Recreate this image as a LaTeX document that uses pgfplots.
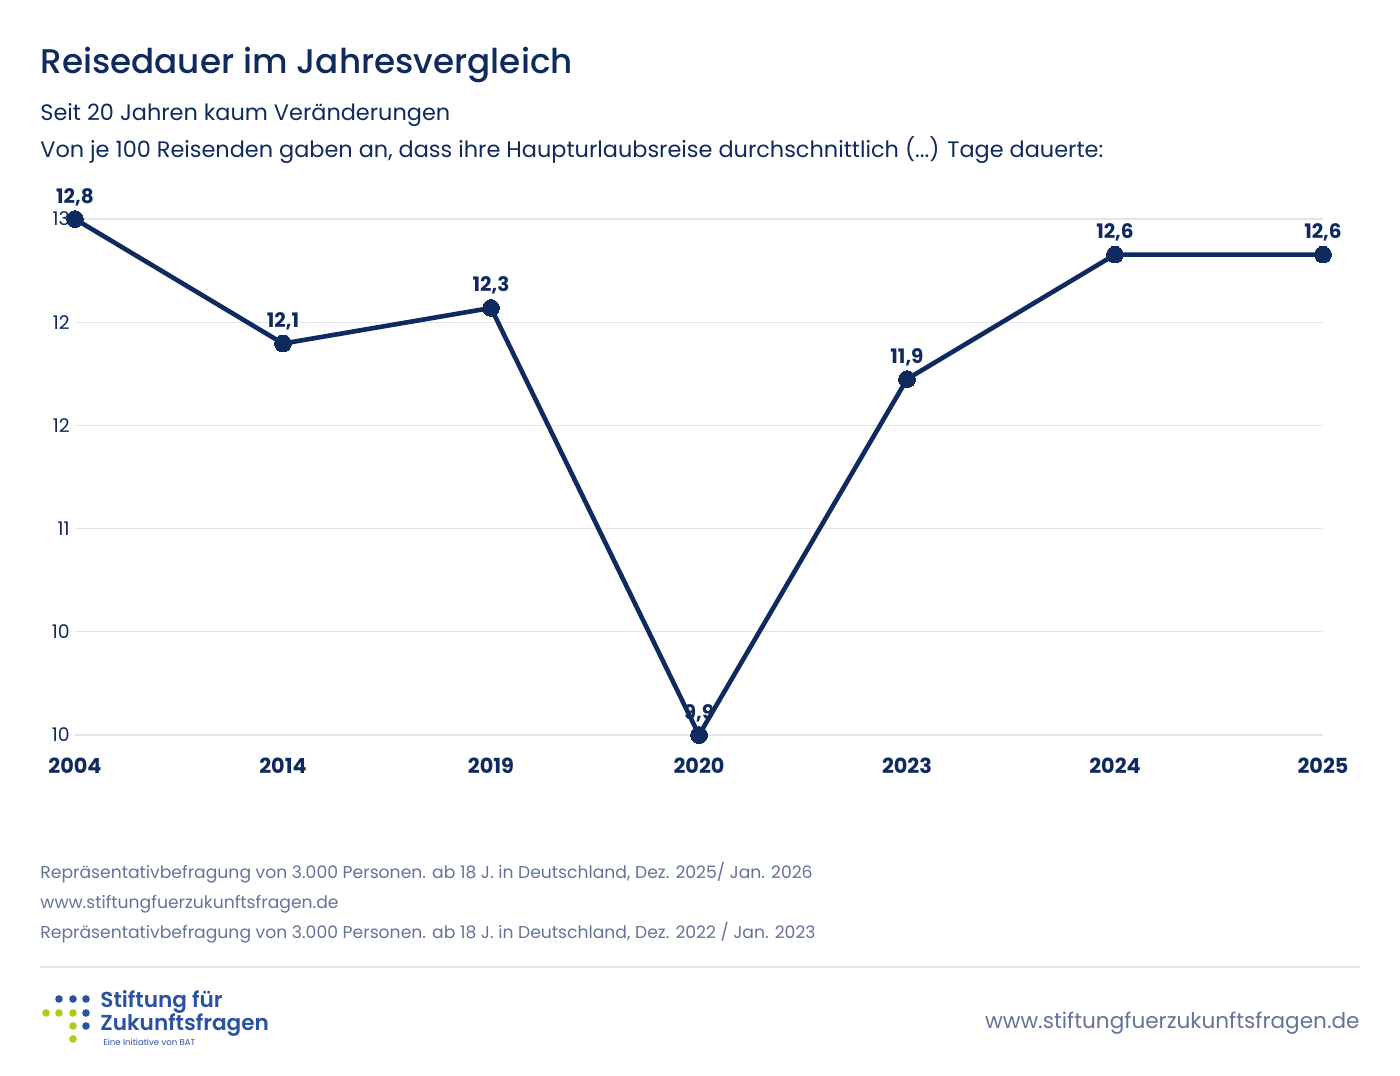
\documentclass[border=0pt]{standalone}
\usepackage{pgfplots}
\pgfplotsset{compat=1.18}
\usepackage{fontspec}
\setmainfont{Poppins}
\newfontfamily\medfont{Poppins Medium}
\newfontfamily\semifont{Poppins SemiBold}
\definecolor{navy}{HTML}{0F2A5E}
\definecolor{gridc}{HTML}{E1E5EF}
\definecolor{foot}{HTML}{65739A}
\definecolor{logoblue}{HTML}{2A52A2}
\definecolor{logogreen}{HTML}{B3CB17}
\newcommand{\PX}[2]{({#1*0.5bp},{-#2*0.5bp})}
\begin{document}
\begin{tikzpicture}
\path[use as bounding box] (0,0) rectangle (700bp,-538bp);
% titles
\node[anchor=base west,inner sep=0pt,text=navy,font=\medfont\fontsize{17.1bp}{20bp}\selectfont] at \PX{40}{74} {Reisedauer im Jahresvergleich};
\node[anchor=base west,inner sep=0pt,text=navy,font=\fontsize{11.2bp}{13bp}\selectfont] at \PX{40}{121} {Seit 20 Jahren kaum Veränderungen};
\node[anchor=base west,inner sep=0pt,text=navy,font=\fontsize{11.2bp}{13bp}\selectfont] at \PX{40}{158} {Von je 100 Reisenden gaben an, dass ihre Haupturlaubsreise durchschnittlich (...) Tage dauerte:};
\begin{axis}[
  at={(37.5bp,-367.5bp)}, anchor=south west, scale only axis,
  width=624bp, height=258bp,
  xmin=0, xmax=6, ymin=9.9, ymax=12.8,
  clip=false,
  axis line style={draw=none},
  tick style={draw=none},
  major tick length=0pt,
  xtick={0,1,2,3,4,5,6},
  xticklabels={2004,2014,2019,2020,2023,2024,2025},
  ytick={9.9,10.48,11.06,11.64,12.22,12.8},
  yticklabels={10,10,11,12,12,13},
  ymajorgrids,
  grid style={color=gridc, line width=0.6bp},
  xticklabel style={anchor=north, inner sep=0pt, yshift=-11.5bp, text=navy, font=\bfseries\fontsize{10.4bp}{12bp}\selectfont},
  yticklabel style={anchor=east, inner sep=0pt, xshift=-2.5bp, text=navy, font=\fontsize{9.4bp}{11bp}\selectfont},
  /pgf/number format/assume math mode=true,
  /pgf/number format/.cd, use comma, fixed, fixed zerofill, precision=1,
]
\addplot[draw=none, mark=none, nodes near coords,
  every node near coord/.append style={anchor=base, inner sep=0pt, yshift=8bp, text=navy, font=\bfseries\fontsize{10bp}{12bp}\selectfont}]
  coordinates {(0,12.8) (1,12.1) (2,12.3) (3,9.9) (4,11.9) (5,12.6) (6,12.6)};
\addplot[color=navy, line width=2.3bp, mark=*, mark size=4.2bp, mark options={fill=navy, draw=navy, line width=0pt}]
  coordinates {(0,12.8) (1,12.1) (2,12.3) (3,9.9) (4,11.9) (5,12.6) (6,12.6)};
\end{axis}
% footer notes
\node[anchor=base west,inner sep=0pt,text=foot,font=\fontsize{8.6bp}{10bp}\selectfont] at \PX{40}{879} {Repräsentativbefragung von 3.000 Personen. ab 18 J. in Deutschland, Dez. 2025/ Jan. 2026};
\node[anchor=base west,inner sep=0pt,text=foot,font=\fontsize{8.6bp}{10bp}\selectfont] at \PX{40}{909} {www.stiftungfuerzukunftsfragen.de};
\node[anchor=base west,inner sep=0pt,text=foot,font=\fontsize{8.6bp}{10bp}\selectfont] at \PX{40}{939} {Repräsentativbefragung von 3.000 Personen. ab 18 J. in Deutschland, Dez. 2022 / Jan. 2023};
\draw[gridc, line width=1bp] \PX{40}{967} -- \PX{1360}{967};
% logo
\foreach \x/\y in {59/999,73/999,86/999,86/1013,86/1026}
  \fill[logoblue] \PX{\x}{\y} circle (1.9bp);
\foreach \x/\y in {46/1013,59/1013,73/1013,73/1026,73/1039}
  \fill[logogreen] \PX{\x}{\y} circle (1.9bp);
\node[anchor=base west,inner sep=0pt,text=logoblue,font=\semifont\fontsize{10.8bp}{12bp}\selectfont] at \PX{100}{1008} {Stiftung für};
\node[anchor=base west,inner sep=0pt,text=logoblue,font=\semifont\fontsize{10.8bp}{12bp}\selectfont] at \PX{100}{1031} {Zukunftsfragen};
\node[anchor=base west,inner sep=0pt,text=logoblue,font=\fontsize{4.3bp}{5bp}\selectfont] at \PX{103}{1046} {Eine Initiative von BAT};
\node[anchor=base east,inner sep=0pt,text=foot,font=\fontsize{10.8bp}{12bp}\selectfont] at \PX{1360}{1029} {www.stiftungfuerzukunftsfragen.de};
\end{tikzpicture}
\end{document}
